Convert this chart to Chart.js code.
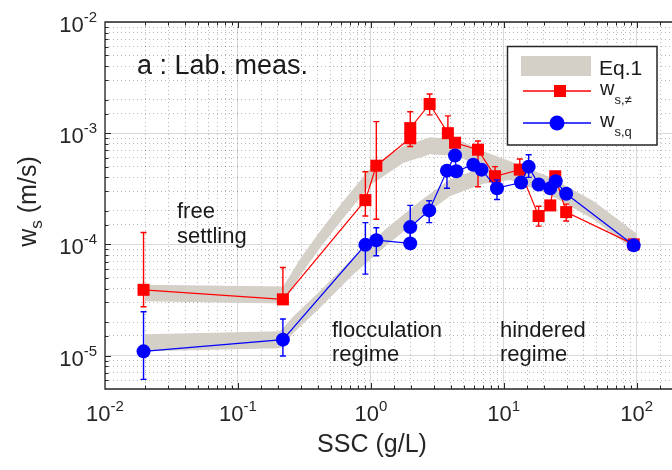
<!DOCTYPE html>
<html>
<head>
<meta charset="utf-8">
<script src="https://cdn.jsdelivr.net/npm/chart.js@4.4.0/dist/chart.umd.min.js"></script>
<style>
  html, body { margin: 0; padding: 0; background: #fff; overflow: hidden; }
  #wrap { position: relative; width: 672px; height: 470px; }
</style>
</head>
<body>
<div id="wrap"><canvas id="chart" width="672" height="470"></canvas></div>
<script>
  const FONT = '"Liberation Sans", Arial, Helvetica, sans-serif';
  const TXT = '#262626';
  const BAND = 'rgb(212, 207, 199)';

  // axis ranges (the right side of the axes is cropped in the original figure)
  const xMin = 0.01, xMax = 184.5;
  const yMin = 5e-6, yMax = 1e-2;
  const xTickValues = [0.01, 0.1, 1, 10, 100];
  const xTickExps = ['-2', '-1', '0', '1', '2'];
  const yTickValues = [1e-5, 1e-4, 1e-3, 1e-2];
  const yTickExps = ['-5', '-4', '-3', '-2'];

  // w_s,≠ (red squares)
  const sscRed = [0.0195, 0.218, 0.91, 1.10, 1.98, 1.98, 2.77, 3.8, 4.3, 6.4, 8.6, 13.2, 18.3, 22.4, 24.4, 29.5, 95];
  const wsRed = [3.9e-5, 3.2e-5, 2.5e-4, 5.1e-4, 9.0e-4, 1.11e-3, 1.83e-3, 1.0e-3, 8.2e-4, 7.1e-4, 4.1e-4, 4.7e-4, 1.8e-4, 2.24e-4, 4.1e-4, 1.95e-4, 1.0e-4];
  const wsRedLo = [2.75e-5, 3.0e-5, 1.8e-4, 1.68e-4, null, 7.6e-4, 1.46e-3, 9.0e-4, null, 3.3e-4, 3.5e-4, 4.0e-4, 1.46e-4, null, null, 1.62e-4, null];
  const wsRedHi = [1.28e-4, 6.2e-5, 4.5e-4, 1.27e-3, null, 1.56e-3, 2.25e-3, 1.43e-3, null, 8.5e-4, 5.0e-4, 5.86e-4, 2.2e-4, null, null, 2.3e-4, null];

  // w_s,q (blue circles)
  const sscBlue = [0.0195, 0.218, 0.91, 1.10, 1.98, 1.98, 2.75, 3.74, 4.3, 4.4, 5.9, 6.8, 8.9, 13.5, 15.4, 18.3, 22.4, 24.6, 29.5, 95];
  const wsBlue = [1.09e-5, 1.39e-5, 9.9e-5, 1.09e-4, 1.02e-4, 1.43e-4, 2.02e-4, 4.6e-4, 6.3e-4, 4.55e-4, 5.2e-4, 4.7e-4, 3.2e-4, 3.6e-4, 5.0e-4, 3.45e-4, 3.2e-4, 3.7e-4, 2.85e-4, 9.8e-5];
  const wsBlueLo = [6.1e-6, 9.9e-6, 5.4e-5, 7.9e-5, null, 1.02e-4, 1.57e-4, 3.2e-4, null, null, null, null, 2.53e-4, null, 4.0e-4, null, null, null, null, null];
  const wsBlueHi = [2.48e-5, 2.13e-5, 1.57e-4, 1.41e-4, null, 2.24e-4, 2.47e-4, 4.6e-4, null, null, null, null, 3.8e-4, null, 6.4e-4, null, null, null, null, null];

  // Eq.1 envelopes (upper and lower band edges)
  const bandUpX = [0.02, 0.2193, 0.2943, 0.4163, 0.5886, 0.990, 1.753, 2.799, 4.469, 7.013, 11.19, 22.38, 47.17, 100];
  const bandUpHi = [4.34e-5, 4.17e-5, 7.43e-5, 1.32e-4, 2.26e-4, 4.84e-4, 7.62e-4, 9.17e-4, 8.81e-4, 6.88e-4, 5.59e-4, 4.02e-4, 2.45e-4, 1.25e-4];
  const bandUpLo = [3.07e-5, 2.94e-5, 5.24e-5, 9.3e-5, 1.59e-4, 3.42e-4, 5.38e-4, 6.48e-4, 6.22e-4, 4.86e-4, 3.95e-4, 2.84e-4, 1.73e-4, 8.8e-5];
  const bandLowX = [0.02, 0.2081, 0.2607, 0.4163, 0.7374, 1.329, 2.353, 3.958, 7.013, 11.19, 22.38, 47.17, 100];
  const bandLowHi = [1.55e-5, 1.65e-5, 2.25e-5, 3.83e-5, 7.58e-5, 1.41e-4, 2.45e-4, 3.86e-4, 4.95e-4, 5.37e-4, 3.94e-4, 2.38e-4, 1.21e-4];
  const bandLowLo = [1.094e-5, 1.164e-5, 1.586e-5, 2.71e-5, 5.35e-5, 9.92e-5, 1.73e-4, 2.72e-4, 3.50e-4, 3.79e-4, 2.78e-4, 1.68e-4, 8.6e-5];

  const pts = (xs, ys) => xs.map((x, i) => ({ x: x, y: ys[i] }));
  const isDecade = v => Math.abs(Math.log10(v) - Math.round(Math.log10(v))) < 1e-6;

  const gridMajor = c => (c.tick && isDecade(c.tick.value)) ? '#d9d9d9' : 'rgba(0,0,0,0)';
  const gridMinor = c => (c.tick && !isDecade(c.tick.value)) ? 'rgba(0,0,0,0.28)' : 'rgba(0,0,0,0)';

  const errSets = {
    0: { color: '#0000ff', x: sscBlue, lo: wsBlueLo, hi: wsBlueHi },
    1: { color: '#ff0000', x: sscRed, lo: wsRedLo, hi: wsRedHi }
  };

  function drawParts(ctx, parts, x, y, align) {
    let w = 0;
    parts.forEach(p => { ctx.font = p[1] + 'px ' + FONT; w += ctx.measureText(p[0]).width; });
    let cx = align === 'right' ? x - w : (align === 'center' ? x - w / 2 : x);
    parts.forEach(p => {
      ctx.font = p[1] + 'px ' + FONT;
      ctx.fillText(p[0], cx, y + (p[2] || 0));
      cx += ctx.measureText(p[0]).width;
    });
  }

  const decor = {
    id: 'decor',
    beforeDatasetDraw(chart, args) {
      const spec = errSets[args.index];
      if (!spec) return;
      const { ctx, chartArea: a } = chart;
      const xs = chart.scales.x, ys = chart.scales.y;
      ctx.save();
      ctx.beginPath();
      ctx.rect(a.left, a.top, a.right - a.left, a.bottom - a.top);
      ctx.clip();
      ctx.strokeStyle = spec.color;
      ctx.lineWidth = 1.4;
      spec.x.forEach((xv, i) => {
        if (spec.lo[i] == null) return;
        const px = xs.getPixelForValue(xv);
        const p1 = ys.getPixelForValue(spec.lo[i]);
        const p2 = ys.getPixelForValue(spec.hi[i]);
        ctx.beginPath();
        ctx.moveTo(px, p1); ctx.lineTo(px, p2);
        ctx.moveTo(px - 3, p1); ctx.lineTo(px + 3, p1);
        ctx.moveTo(px - 3, p2); ctx.lineTo(px + 3, p2);
        ctx.stroke();
      });
      ctx.restore();
    },
    afterDatasetsDraw(chart) {
      const { ctx, chartArea: a } = chart;
      const xs = chart.scales.x, ys = chart.scales.y;
      ctx.save();
      ctx.strokeStyle = TXT;
      ctx.lineWidth = 1.3;
      ctx.beginPath();
      ctx.moveTo(a.right + 2, a.top); ctx.lineTo(a.left, a.top);
      ctx.lineTo(a.left, a.bottom); ctx.lineTo(a.right + 2, a.bottom);
      ctx.stroke();
      ctx.lineWidth = 1;
      ctx.beginPath();
      xs.ticks.forEach(t => {
        const px = Math.round(xs.getPixelForValue(t.value)) + 0.5;
        if (px <= a.left + 1 || px >= a.right - 1) return;
        const len = isDecade(t.value) ? 6 : 3.5;
        ctx.moveTo(px, a.bottom); ctx.lineTo(px, a.bottom - len);
        ctx.moveTo(px, a.top); ctx.lineTo(px, a.top + len);
      });
      ys.ticks.forEach(t => {
        const py = Math.round(ys.getPixelForValue(t.value)) + 0.5;
        if (py <= a.top + 1 || py >= a.bottom - 1) return;
        const len = isDecade(t.value) ? 6 : 3.5;
        ctx.moveTo(a.left, py); ctx.lineTo(a.left + len, py);
      });
      ctx.stroke();
      ctx.restore();
    },
    afterDraw(chart) {
      const { ctx, chartArea: a } = chart;
      const xs = chart.scales.x, ys = chart.scales.y;
      ctx.save();
      ctx.fillStyle = TXT;
      ctx.textBaseline = 'alphabetic';

      // tick labels
      xTickValues.forEach((v, i) => {
        const px = xs.getPixelForValue(v);
        drawParts(ctx, [['10', 22], [xTickExps[i], 15, -10]], px, 421, 'center');
      });
      yTickValues.forEach((v, i) => {
        const py = ys.getPixelForValue(v);
        drawParts(ctx, [['10', 22], [yTickExps[i], 15, -10]], 97, py + 10, 'right');
      });

      // axis titles
      drawParts(ctx, [['SSC (g/L)', 25]], 372, 452, 'center');
      ctx.save();
      ctx.translate(36, (a.top + a.bottom) / 2 - 4);
      ctx.rotate(-Math.PI / 2);
      drawParts(ctx, [['w', 25], ['s', 17, 6], [' (m/s)', 25]], 0, 0, 'center');
      ctx.restore();

      // annotations
      ctx.fillStyle = '#1a1a1a';
      drawParts(ctx, [['a : Lab. meas.', 27]], 137, 74, 'left');
      drawParts(ctx, [['free', 22]], 177, 218, 'left');
      drawParts(ctx, [['settling', 22]], 177, 243, 'left');
      drawParts(ctx, [['flocculation', 22]], 332, 337, 'left');
      drawParts(ctx, [['regime', 22]], 332, 361, 'left');
      drawParts(ctx, [['hindered', 22]], 500, 337, 'left');
      drawParts(ctx, [['regime', 22]], 500, 361, 'left');

      // legend
      ctx.fillStyle = '#fff';
      ctx.fillRect(507, 46, 150, 99);
      ctx.strokeStyle = TXT;
      ctx.lineWidth = 1.5;
      ctx.strokeRect(507.5, 46.5, 149.5, 98.5);
      ctx.fillStyle = BAND;
      ctx.fillRect(521, 56, 70, 20);
      ctx.lineWidth = 1.3;
      ctx.strokeStyle = '#ff0000';
      ctx.beginPath(); ctx.moveTo(523, 91); ctx.lineTo(591, 91); ctx.stroke();
      ctx.fillStyle = '#ff0000';
      ctx.fillRect(554, 85, 12, 12);
      ctx.strokeStyle = '#0000ff';
      ctx.beginPath(); ctx.moveTo(523, 123); ctx.lineTo(591, 123); ctx.stroke();
      ctx.fillStyle = '#0000ff';
      ctx.beginPath(); ctx.arc(557, 123, 7.5, 0, Math.PI * 2); ctx.fill();
      ctx.fillStyle = '#1a1a1a';
      drawParts(ctx, [['Eq.1', 21]], 599, 75, 'left');
      drawParts(ctx, [['w', 20], ['s,\u2260', 13, 9]], 600, 95, 'left');
      drawParts(ctx, [['w', 20], ['s,q', 13, 9]], 600, 127, 'left');
      ctx.restore();
    }
  };

  new Chart(document.getElementById('chart'), {
    type: 'line',
    data: {
      datasets: [
        {
          label: 'w_s,q',
          data: pts(sscBlue, wsBlue),
          borderColor: '#0000ff',
          backgroundColor: '#0000ff',
          borderWidth: 1.2,
          pointStyle: 'circle',
          pointRadius: 7,
          pointBorderWidth: 0,
          pointBackgroundColor: '#0000ff',
          fill: false,
          order: 0
        },
        {
          label: 'w_s,≠',
          data: pts(sscRed, wsRed),
          borderColor: '#ff0000',
          backgroundColor: '#ff0000',
          borderWidth: 1.2,
          pointStyle: 'rect',
          pointRadius: 8.5,
          pointBorderWidth: 0,
          pointBackgroundColor: '#ff0000',
          fill: false,
          order: 1
        },
        {
          label: 'Eq.1 upper hi',
          data: pts(bandUpX, bandUpHi),
          borderWidth: 0,
          pointRadius: 0,
          fill: false,
          order: 2
        },
        {
          label: 'Eq.1',
          data: pts(bandUpX, bandUpLo),
          borderWidth: 0,
          pointRadius: 0,
          backgroundColor: BAND,
          fill: '-1',
          order: 2
        },
        {
          label: 'Eq.1 lower hi',
          data: pts(bandLowX, bandLowHi),
          borderWidth: 0,
          pointRadius: 0,
          fill: false,
          order: 3
        },
        {
          label: 'Eq.1 lower',
          data: pts(bandLowX, bandLowLo),
          borderWidth: 0,
          pointRadius: 0,
          backgroundColor: BAND,
          fill: '-1',
          order: 3
        }
      ]
    },
    options: {
      responsive: false,
      animation: false,
      devicePixelRatio: 1,
      layout: { autoPadding: false, padding: { top: 22, left: 0, right: 0, bottom: 0 } },
      plugins: {
        legend: { display: false },
        tooltip: { enabled: false }
      },
      scales: {
        x: {
          type: 'logarithmic', min: xMin, max: xMax, position: 'bottom',
          grid: { color: gridMajor, lineWidth: 1, drawTicks: false },
          border: { display: false },
          ticks: { display: false },
          afterFit: s => { s.height = 81; }
        },
        xm: {
          type: 'logarithmic', min: xMin, max: xMax, position: 'bottom',
          grid: { color: gridMinor, lineWidth: 1, drawTicks: false },
          border: { display: false, dash: [1, 3] },
          ticks: { display: false },
          afterFit: s => { s.height = 0; }
        },
        y: {
          type: 'logarithmic', min: yMin, max: yMax, position: 'left',
          grid: { color: gridMajor, lineWidth: 1, drawTicks: false },
          border: { display: false },
          ticks: { display: false },
          afterFit: s => { s.width = 105; }
        },
        ym: {
          type: 'logarithmic', min: yMin, max: yMax, position: 'left',
          grid: { color: gridMinor, lineWidth: 1, drawTicks: false },
          border: { display: false, dash: [1, 3] },
          ticks: { display: false },
          afterFit: s => { s.width = 0; }
        }
      }
    },
    plugins: [decor]
  });
</script>
</body>
</html>
